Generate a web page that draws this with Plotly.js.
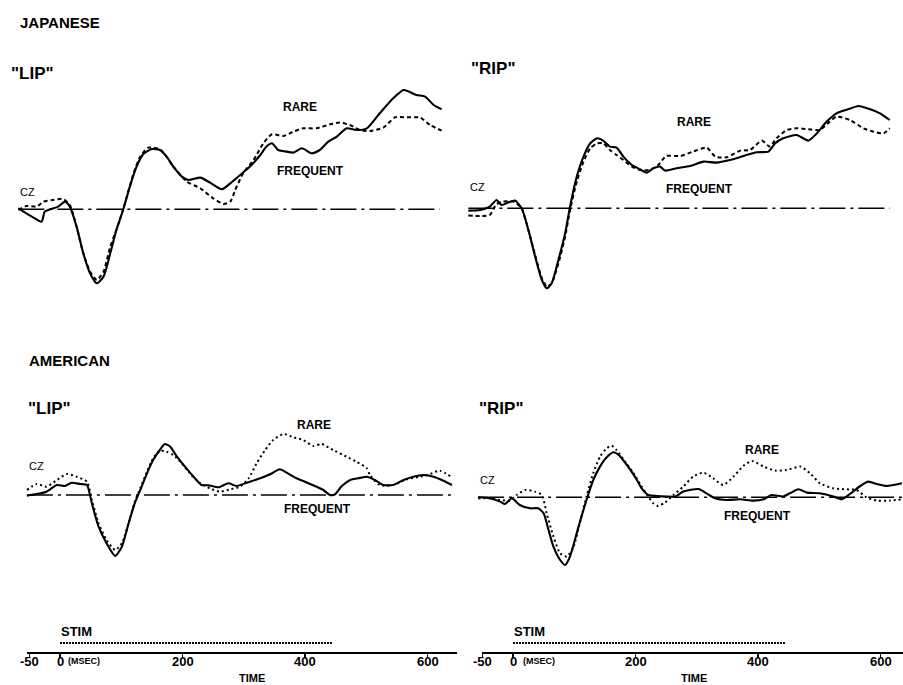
<!DOCTYPE html>
<html><head><meta charset="utf-8">
<script src="https://cdn.plot.ly/plotly-3.0.1.min.js"></script>
<style>html,body{margin:0;padding:0;background:#fff}</style>
</head><body><div id="chart" style="width:903px;height:685px"></div>
<script>
// ---------- DATA (time in ms, amplitude in arbitrary µV-like units) ----------
const tlFreqT = [-50,-28,-12,-7,2,15,26,34,45,56,67,78,89,100,110,121,132,143,154,168,181,192,203,217,228,247,263,282,296,312,328,345,355,364,374,388,399,413,429,442,456,470,486,502,519,540,562,579,600,614,628,641];
const tlFreqV = [0.1,-0.73,-1.23,-0.23,0,0.27,0.77,0.27,-1.73,-4.4,-6.4,-7.4,-6.73,-4.4,-2.07,-0.07,2.27,4.27,5.53,6.03,5.93,5.27,4.27,3.27,2.93,3.17,2.67,2.0,2.6,3.43,4.27,5.43,6.27,6.6,5.93,5.77,5.67,6.1,5.6,5.93,6.77,7.27,8.1,7.93,8.1,9.6,11.1,11.93,11.43,11.27,10.43,10.0];
const tlRareT = [-50,-37,-20,-9,7,23,34,45,56,67,78,89,100,108,119,127,138,149,162,181,192,203,225,247,268,285,296,304,317,334,350,364,383,399,415,437,459,475,491,508,524,546,565,584,606,622,641];
const tlRareV = [-0.07,0.33,0.27,0.77,0.93,1.03,0.43,-1.73,-4.4,-6.23,-7.07,-6.23,-3.73,-2.4,-0.4,1.27,3.6,5.27,6.17,6.0,5.27,4.27,2.77,2.1,1.1,0.53,0.77,1.93,3.6,4.93,6.6,7.5,7.33,7.77,8.1,8.1,8.5,8.67,8.43,7.93,7.83,8.17,9.2,9.2,9.17,8.43,7.87];

const trFreqT = [-50,-31,-15,-4,4,15,26,37,48,59,70,78,86,97,108,116,127,138,149,160,170,181,192,203,217,230,241,252,263,271,290,312,334,355,377,399,421,440,451,464,486,505,519,535,551,570,587,606,622,638];
const trFreqV = [-0.23,-0.17,0.17,0.83,0.33,0.57,0.77,0,-2.17,-4.83,-7.17,-8.0,-7.5,-5.17,-2.5,0.17,3.17,5.17,6.5,7.0,6.77,6.17,6.07,5.17,4.33,3.9,3.57,4.0,4.17,3.77,4.0,4.23,4.67,4.57,4.83,5.23,5.6,5.67,6.5,7.0,7.33,6.77,7.5,8.67,9.5,9.9,10.23,9.9,9.5,8.83];
const trRareT = [-50,-31,-15,-4,7,23,37,48,59,70,78,86,97,108,116,127,138,149,160,170,181,192,203,217,230,246,260,273,296,317,339,353,372,394,410,429,442,453,470,486,505,524,540,551,573,595,617,628,638];
const trRareV = [-0.73,-0.77,-0.67,0.43,0.67,0.67,0,-2.17,-4.67,-7.0,-7.83,-7.5,-5.5,-2.83,-0.17,2.67,4.67,6.0,6.5,6.5,5.83,5.33,4.83,4.17,3.83,3.83,4.33,5.23,5.23,5.67,6.07,5.17,5.1,5.77,5.83,6.77,6.17,7.0,7.83,8.0,7.9,7.83,8.67,9.17,8.83,8.0,7.57,7.5,8.0];

const blFreqT = [-54,-38,-22,-5,8,19,33,44,52,63,76,90,101,112,122,131,142,152,163,171,180,191,204,218,231,242,259,275,288,305,327,343,359,370,386,400,416,430,441,449,460,474,487,501,514,528,544,561,577,593,610,626,640];
const blFreqV = [-0.07,0.1,0.33,1.0,0.9,1.23,1.1,1.0,-0.83,-3.17,-4.83,-6.1,-5.17,-2.83,-0.83,0.5,2.17,3.5,4.5,5.1,4.83,3.83,2.83,1.83,1.0,0.97,0.77,1.17,0.9,1.23,1.67,2.07,2.57,2.23,1.67,1.33,0.9,0.5,0,0.07,0.9,1.5,1.67,1.83,1.5,1.0,1.0,1.5,1.83,2.0,1.83,1.43,1.0];
const blRareT = [-54,-38,-22,-5,11,27,44,52,63,76,90,101,112,122,131,142,152,163,174,185,199,212,229,245,261,278,294,308,321,335,348,365,381,397,414,427,446,468,484,501,506,522,544,566,588,604,620,640];
const blRareV = [0.5,1.1,0.83,1.5,2.1,1.83,1.33,-0.5,-2.83,-4.5,-5.5,-4.83,-2.83,-0.67,0.67,2.33,3.67,4.43,4.33,4.0,3.17,2.17,1.17,0.67,0.33,0.57,0.83,1.67,3.17,4.5,5.5,6.1,5.77,5.5,4.9,5.1,4.5,3.83,3.33,2.67,2.0,1.0,1.0,1.57,1.83,2.1,2.43,1.77];

const brFreqT = [-57,-38,-21,-13,-2,11,28,41,50,58,66,77,85,93,107,120,131,142,153,164,172,186,199,210,221,235,251,265,278,303,316,330,349,371,392,409,422,441,452,466,480,501,523,537,553,567,580,594,610,635];
const brFreqV = [0,-0.1,-0.43,-0.67,-0.1,-0.77,-1.1,-1.1,-1.6,-3.27,-4.93,-6.27,-6.77,-5.93,-2.93,-0.27,1.73,3.07,4.0,4.5,4.27,3.23,2.07,0.9,0.23,0.13,0.07,0.07,0.57,0.83,0.4,-0.1,-0.27,-0.2,-0.33,-0.2,0.23,0.07,0.4,0.8,0.47,0.4,0.07,-0.2,0.47,1.13,1.57,1.33,1.13,1.4];
const brRareT = [-57,-38,-21,-5,6,20,36,47,55,66,77,88,99,109,120,131,142,153,161,169,183,197,210,221,229,237,248,262,278,294,311,327,343,360,376,390,409,428,447,469,485,501,523,545,561,577,594,616,635];
const brRareV = [-0.1,-0.1,-0.27,-0.33,0.23,0.73,0.57,0.23,-1.6,-3.93,-5.6,-5.93,-4.93,-2.6,0.07,2.4,4.07,4.9,5.17,4.73,3.57,2.4,1.07,0.07,-0.6,-0.87,-0.53,0.23,1.07,2.07,2.47,1.9,1.23,2.07,3.13,3.63,3.07,2.67,2.73,3.07,2.4,1.4,0.9,0.8,0.73,0,-0.33,-0.33,-0.2];

const tlBaseT = [-50, 638];
const trBaseT = [-50, 638];
const blBaseT = [-54, 642];
const brBaseT = [-57, 635];
const baseV = [0, 0];
const stimT = [0, 444];
const tickVals = [-50, 0, 200, 400, 600];
const tickText = ['-50', '0', '200', '400', '600'];

// ---------- LAYOUT HELPERS ----------
const W = 903, H = 685;
const PXMS = 0.6125;   // px per ms
const PXV = 10;        // px per amplitude unit
const FONT = 'Liberation Sans, Arial, sans-serif';

function xdom(l, r){ return [l / W, r / W]; }
function ydom(t, b){ return [1 - b / H, 1 - t / H]; }
function xr(l, r, x0){ return [(l - x0) / PXMS, (r - x0) / PXMS]; }
function yr(t, b, y0, s){ return [-(b - y0) / s, (y0 - t) / s]; }

const hidden = {visible: false, showgrid: false, zeroline: false, fixedrange: true};

const panels = [
  {ax: '', xd: [5, 455],  x0: 49,  yd: [60, 300],  y0: 209.3, base: tlBaseT, f: [tlFreqT, tlFreqV], r: [tlRareT, tlRareV], rareDash: '4px,3px'},
  {ax: '2', xd: [455, 903], x0: 499, yd: [60, 300],  y0: 208.3, base: trBaseT, f: [trFreqT, trFreqV], r: [trRareT, trRareV], rareDash: '4px,3px'},
  {ax: '3', xd: [5, 458],  x0: 60,  yd: [390, 600], y0: 495,   base: blBaseT, f: [blFreqT, blFreqV], r: [blRareT, blRareV], rareDash: '2px,3px'},
  {ax: '4', xd: [458, 903], x0: 513, yd: [390, 600], y0: 497.3, base: brBaseT, f: [brFreqT, brFreqV], r: [brRareT, brRareV], rareDash: '2px,3px'}
];

const data = [];
const layout = {
  width: W, height: H,
  margin: {l: 0, r: 0, t: 0, b: 0},
  paper_bgcolor: '#fff', plot_bgcolor: 'rgba(0,0,0,0)',
  showlegend: false,
  font: {family: FONT, color: '#000'},
  annotations: []
};

panels.forEach(p => {
  const xa = 'x' + p.ax, ya = 'y' + p.ax;
  layout['xaxis' + p.ax] = Object.assign({}, hidden, {domain: xdom(...p.xd), range: xr(p.xd[0], p.xd[1], p.x0), anchor: ya});
  layout['yaxis' + p.ax] = Object.assign({}, hidden, {domain: ydom(...p.yd), range: yr(p.yd[0], p.yd[1], p.y0, PXV), anchor: xa});
  data.push({x: p.base, y: baseV, xaxis: xa, yaxis: ya, mode: 'lines', hoverinfo: 'skip',
             line: {color: '#000', width: 1.6, dash: '26px,5px,3px,5px'}});
  data.push({x: p.r[0], y: p.r[1], xaxis: xa, yaxis: ya, mode: 'lines', name: 'RARE',
             line: {color: '#000', width: 2, dash: p.rareDash, shape: 'spline', smoothing: 0.6}});
  data.push({x: p.f[0], y: p.f[1], xaxis: xa, yaxis: ya, mode: 'lines', name: 'FREQUENT',
             line: {color: '#000', width: 2.1, shape: 'spline', smoothing: 0.6}});
});

function ann(text, px, py, size, xanchor, weight){
  layout.annotations.push({
    text: text, xref: 'paper', yref: 'paper', x: px / W, y: 1 - py / H,
    xanchor: xanchor || 'center', yanchor: 'middle', showarrow: false,
    font: {family: FONT, size: size, color: '#000', weight: weight || 'bold'}
  });
}

// time axis strips
const strips = [
  {ax: '5', xd: [27, 457], x0: 60},
  {ax: '6', xd: [482, 903], x0: 513}
];
strips.forEach(s => {
  const xa = 'x' + s.ax, ya = 'y' + s.ax;
  layout['xaxis' + s.ax] = {
    domain: xdom(...s.xd), range: xr(s.xd[0], s.xd[1], s.x0), anchor: ya,
    showgrid: false, zeroline: false, fixedrange: true,
    showline: true, linecolor: '#000', linewidth: 2,
    ticks: 'outside', ticklen: 4, tickwidth: 1.6, tickcolor: '#000',
    tickmode: 'array', tickvals: tickVals, showticklabels: false
  };
  layout['yaxis' + s.ax] = Object.assign({}, hidden, {domain: ydom(615, 652), range: [0, 37], anchor: xa});
  data.push({x: stimT, y: [9, 9], xaxis: xa, yaxis: ya, mode: 'lines', hoverinfo: 'skip',
             line: {color: '#000', width: 2.2, dash: '2px,1px'}});
  // tick labels placed on the axis' own scale
  tickVals.forEach((v, i) => {
    layout.annotations.push({
      text: tickText[i], xref: xa, yref: 'paper', x: v, y: 1 - 661 / H,
      xanchor: 'center', yanchor: 'middle', showarrow: false,
      font: {family: FONT, size: 13, color: '#000', weight: 'bold'}
    });
  });
});

ann('JAPANESE', 18, 23, 15, 'left');
ann('"LIP"', 9, 73, 17, 'left');
ann('"RIP"', 469, 69, 17, 'left');
ann('CZ', 18, 192, 11, 'left', 'normal');
ann('CZ', 468, 187, 11, 'left', 'normal');
ann('RARE', 300, 107, 12);
ann('FREQUENT', 310, 171, 12);
ann('RARE', 694, 122, 12);
ann('FREQUENT', 699, 189, 12);

ann('AMERICAN', 27, 361, 15, 'left');
ann('"LIP"', 26, 408, 17, 'left');
ann('"RIP"', 477, 408, 17, 'left');
ann('CZ', 27, 466, 11, 'left', 'normal');
ann('CZ', 478, 480, 11, 'left', 'normal');
ann('RARE', 314, 425, 12);
ann('FREQUENT', 317, 509, 12);
ann('RARE', 762, 450, 12);
ann('FREQUENT', 757, 516, 12);

ann('STIM', 59, 631, 13, 'left');
ann('STIM', 512, 631, 13, 'left');
ann('(MSEC)', 66, 661, 9, 'left');
ann('(MSEC)', 521, 661, 9, 'left');
ann('TIME', 252, 678, 11);
ann('TIME', 694, 678, 11);

Plotly.newPlot('chart', data, layout, {staticPlot: true, displayModeBar: false});
</script>
</body></html>
